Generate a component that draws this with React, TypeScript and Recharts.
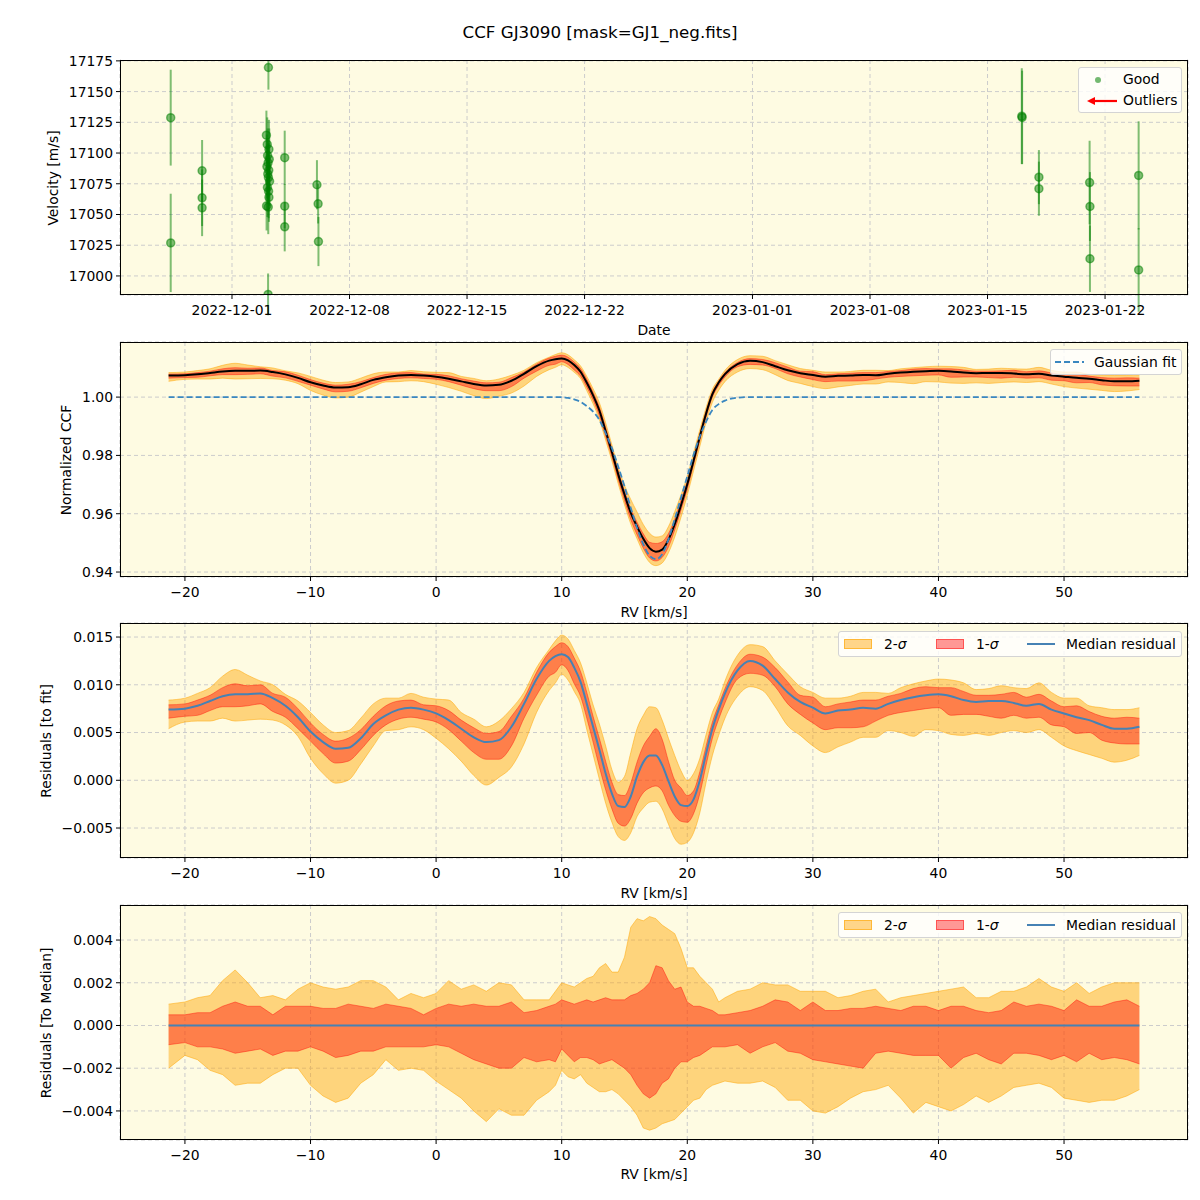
import React from "react";
import {
  ScatterChart,
  ComposedChart,
  Scatter,
  ErrorBar,
  Area,
  Line,
  XAxis,
  YAxis,
  CartesianGrid,
} from "recharts";

const FONT = "'DejaVu Sans', sans-serif";
const BG = "#fefbe2";
const GRID = "#cccccc";
const TICK = { fontSize: 13.9, fill: "#000", fontFamily: FONT };

// ---- panel 1: RV time series (days since 2022-12-01) ----
const obsDay = [
  -3.65, -3.65, -1.78, -1.78, -1.78,
  2.17, 2.05, 2.1, 2.2, 2.12, 2.22, 2.15, 2.08, 2.19, 2.13, 2.17, 2.24, 2.11, 2.18, 2.2, 2.06, 2.16, 2.15,
  3.14, 3.14, 3.14, 5.06, 5.13, 5.15,
  47.04, 47.06, 48.06, 48.06, 51.08, 51.1, 51.1, 54.0, 54.0,
];
const obsVel = [
  17128.8, 17026.9, 17085.6, 17063.6, 17055.4,
  17169.6, 17114.5, 17107, 17103, 17098, 17095, 17092, 17089, 17086, 17083, 17080, 17077, 17072, 17069, 17064, 17057, 17056, 16985,
  17096.2, 17056.8, 17040, 17074.2, 17058.7, 17028,
  17130, 17129, 17080.4, 17071, 17076, 17056.5, 17014, 17081.8, 17004.9,
];
const obsErr = [
  39, 40, 25, 23, 23,
  18, 20, 22, 24, 22, 25, 20, 26, 22, 24, 22, 20, 24, 22, 20, 20, 22, 17,
  22, 18, 20, 20, 16, 20,
  39, 38, 22, 22, 34, 28, 27, 44, 34,
];
const dateTicks = [0, 7, 14, 21, 31, 38, 45, 52];
const dateLabels = [
  "2022-12-01", "2022-12-08", "2022-12-15", "2022-12-22",
  "2023-01-01", "2023-01-08", "2023-01-15", "2023-01-22",
];
const velTicks = [17000, 17025, 17050, 17075, 17100, 17125, 17150, 17175];

// ---- panels 2-4: CCF vs RV ----
const rv = [
  -21.3, -20, -19, -18, -17, -16, -15, -14, -13, -12, -11, -10, -9, -8, -7, -6, -5, -4, -3, -2, -1, 0, 1, 2, 3, 4, 5, 6, 7, 8, 9,
  9.5, 10, 10.5, 11, 11.5, 12, 12.5, 13, 13.5, 14, 14.5, 15, 15.5, 16, 16.5, 17, 17.5, 18, 18.5, 19, 19.5, 20, 20.5, 21, 21.5, 22, 22.5, 23,
  24, 25, 26, 27, 28, 29, 30, 31, 32, 33, 34, 35, 36, 37, 38, 39, 40, 41, 42, 43, 44, 45, 46, 47, 48, 49, 50, 51, 52, 53, 54, 55, 56,
];
const gaussFit = [
  1, 1, 1, 1, 1, 1, 1, 1, 1, 1, 1, 1, 1, 1, 1, 1, 1, 1, 1, 1, 1, 1, 1, 1, 1, 1, 1, 1, 1, 1, 1,
  1, 1, 0.9997, 0.9992, 0.9984, 0.9969, 0.995, 0.9922, 0.9876, 0.9825, 0.9762, 0.9694, 0.962, 0.9552, 0.9495, 0.9456, 0.9444, 0.9461, 0.9512, 0.9581, 0.9655, 0.9728, 0.9802, 0.9865, 0.9916, 0.9956, 0.9976, 0.9988,
  0.9998, 1, 1, 1, 1, 1, 1, 1, 1, 1, 1, 1, 1, 1, 1, 1, 1, 1, 1, 1, 1, 1, 1, 1, 1, 1, 1, 1, 1, 1, 1, 1, 1,
];
// median residual to the Gaussian fit
const resMedian = [
  0.0074, 0.0075, 0.0078, 0.0083, 0.0088, 0.009, 0.009, 0.0091, 0.0086, 0.0078, 0.0066, 0.0051, 0.004, 0.0033, 0.0034, 0.0044, 0.0059, 0.0068, 0.0074, 0.0076, 0.0074, 0.007, 0.0063, 0.0054, 0.0045, 0.004, 0.0042, 0.0056, 0.008, 0.0106, 0.0125,
  0.013, 0.0132, 0.0129, 0.0118, 0.0103, 0.008, 0.0056, 0.0032, 0.0007, -0.0014, -0.0027, -0.0028, -0.0017, 0.0004, 0.0019, 0.0026, 0.0026, 0.0016, -0.0001, -0.0017, -0.0026, -0.0027, -0.002, 0.0, 0.0028, 0.0054, 0.0074, 0.0091,
  0.0115, 0.0125, 0.012, 0.0106, 0.0092, 0.0082, 0.0076, 0.007, 0.0073, 0.0074, 0.0076, 0.0075, 0.008, 0.0084, 0.0087, 0.0089, 0.009, 0.0088, 0.0084, 0.0082, 0.0083, 0.0083, 0.0081, 0.0078, 0.008, 0.0074, 0.007, 0.0066, 0.0063, 0.0058, 0.0054, 0.0054, 0.0056,
];
// spread around the median (residuals to median)
const hi2 = [
  0.001, 0.0011, 0.0013, 0.0014, 0.0021, 0.0026, 0.002, 0.0013, 0.0014, 0.0012, 0.0017, 0.002, 0.0018, 0.0017, 0.0018, 0.0021, 0.0021, 0.0018, 0.0012, 0.0015, 0.0013, 0.0015, 0.0021, 0.0017, 0.0019, 0.0016, 0.002, 0.0019, 0.0012, 0.0012, 0.0012,
  0.0016, 0.002, 0.0019, 0.0018, 0.002, 0.0022, 0.0023, 0.0027, 0.0029, 0.0025, 0.0025, 0.0032, 0.0046, 0.005, 0.0049, 0.0051, 0.005, 0.0047, 0.0045, 0.0043, 0.0036, 0.0027, 0.0027, 0.0023, 0.002, 0.0017, 0.0011, 0.0013,
  0.0016, 0.0017, 0.002, 0.0019, 0.0019, 0.0016, 0.0016, 0.0016, 0.0013, 0.0014, 0.0016, 0.0017, 0.0011, 0.0013, 0.0014, 0.0015, 0.0016, 0.0017, 0.0018, 0.0013, 0.0013, 0.0016, 0.0016, 0.0018, 0.0022, 0.0018, 0.0016, 0.002, 0.0015, 0.0018, 0.002, 0.002, 0.002,
];
const hi1 = [
  0.0005, 0.0005, 0.0006, 0.0006, 0.0009, 0.0011, 0.0009, 0.0009, 0.0005, 0.0009, 0.0009, 0.0009, 0.0008, 0.0008, 0.001, 0.0009, 0.0008, 0.001, 0.0009, 0.0008, 0.0005, 0.0008, 0.001, 0.0009, 0.001, 0.0009, 0.0009, 0.0011, 0.0006, 0.0007, 0.0009,
  0.001, 0.0012, 0.0011, 0.001, 0.0011, 0.0012, 0.0011, 0.0012, 0.0013, 0.0012, 0.0012, 0.0012, 0.0014, 0.0015, 0.0017, 0.002, 0.0028, 0.0027, 0.0021, 0.0017, 0.0018, 0.0011, 0.0009, 0.0009, 0.0008, 0.0007, 0.0005, 0.0005,
  0.0006, 0.0007, 0.0009, 0.0012, 0.0011, 0.0007, 0.0011, 0.0007, 0.0007, 0.0008, 0.0008, 0.0009, 0.0008, 0.0007, 0.0009, 0.0009, 0.0007, 0.0009, 0.0009, 0.0007, 0.0006, 0.0007, 0.0011, 0.0009, 0.001, 0.0009, 0.0007, 0.0012, 0.0009, 0.0009, 0.0011, 0.0012, 0.0009,
];
const lo1 = [
  -0.0009, -0.0008, -0.001, -0.001, -0.0011, -0.0013, -0.0012, -0.0011, -0.0014, -0.0012, -0.0012, -0.001, -0.0012, -0.0015, -0.0014, -0.0012, -0.0012, -0.001, -0.001, -0.001, -0.001, -0.0009, -0.001, -0.0013, -0.0016, -0.0018, -0.002, -0.002, -0.0015, -0.0017, -0.0016,
  -0.0017, -0.0011, -0.0014, -0.0017, -0.0015, -0.0015, -0.0016, -0.0018, -0.0017, -0.0016, -0.0018, -0.002, -0.0023, -0.0028, -0.0032, -0.0034, -0.0032, -0.0027, -0.0025, -0.002, -0.0017, -0.0017, -0.0015, -0.0014, -0.0012, -0.001, -0.001, -0.001,
  -0.0009, -0.0013, -0.001, -0.0008, -0.0012, -0.0013, -0.0016, -0.0017, -0.0018, -0.0019, -0.002, -0.0013, -0.0012, -0.0013, -0.0014, -0.0014, -0.0014, -0.002, -0.0015, -0.0013, -0.0016, -0.0018, -0.0013, -0.0013, -0.0014, -0.0016, -0.0014, -0.0017, -0.0013, -0.0016, -0.0015, -0.0016, -0.0018,
];
const lo2 = [
  -0.002, -0.0014, -0.0016, -0.0021, -0.0023, -0.0028, -0.0027, -0.0027, -0.0023, -0.002, -0.002, -0.0028, -0.0033, -0.0036, -0.0034, -0.0027, -0.0023, -0.0016, -0.0021, -0.002, -0.0021, -0.0026, -0.003, -0.0034, -0.004, -0.0045, -0.0039, -0.0042, -0.0042, -0.0035, -0.0031,
  -0.0028, -0.0021, -0.0024, -0.0025, -0.0023, -0.0027, -0.0029, -0.0031, -0.0031, -0.003, -0.0032, -0.0035, -0.0038, -0.0042, -0.0048, -0.0049, -0.0048, -0.0046, -0.0045, -0.0044, -0.0041, -0.0038, -0.0035, -0.0034, -0.003, -0.0028, -0.0027, -0.0026,
  -0.0027, -0.0027, -0.0026, -0.0029, -0.0035, -0.0035, -0.004, -0.0041, -0.0038, -0.0034, -0.0031, -0.003, -0.0028, -0.0034, -0.0041, -0.0036, -0.0038, -0.004, -0.0037, -0.0033, -0.0036, -0.0033, -0.0029, -0.0028, -0.0027, -0.0029, -0.0034, -0.0035, -0.0036, -0.0035, -0.0035, -0.0033, -0.003,
];
const rvTicks = [-20, -10, 0, 10, 20, 30, 40, 50];
const ccfTicks = [0.94, 0.96, 0.98, 1.0];
const resTicks = [-0.005, 0, 0.005, 0.01, 0.015];
const devTicks = [-0.004, -0.002, 0, 0.002, 0.004];

const obs = obsDay.map((d, i) => ({ day: d, vel: obsVel[i], err: obsErr[i] }));

const rows = rv.map((r, i) => {
  const ccf = gaussFit[i] + resMedian[i];
  const res = resMedian[i];
  return {
    rv: r,
    gauss: gaussFit[i],
    ccf,
    ccf2: [ccf + lo2[i], ccf + hi2[i]],
    ccf1: [ccf + lo1[i], ccf + hi1[i]],
    res,
    res2: [res + lo2[i], res + hi2[i]],
    res1: [res + lo1[i], res + hi1[i]],
    dev: res - resMedian[i],
    dev2: [lo2[i], hi2[i]],
    dev1: [lo1[i], hi1[i]],
  };
});

const RV_DOMAIN: [number, number] = [-25.17, 59.87];
const fmt = (d: number) => (v: number) => (v < 0 ? "\u2212" : "") + Math.abs(v).toFixed(d);

const PAD = 12;
const PLOT_H = 235;
const CHART_H = PAD + PLOT_H + 40;

function Frame({ top }: { top: number }) {
  return (
    <div
      style={{
        position: "absolute",
        left: 120,
        top,
        width: 1068,
        height: PLOT_H,
        border: "1px solid #000",
        boxSizing: "border-box",
        pointerEvents: "none",
      }}
    />
  );
}

function Label({ x, y, text, rotate }: { x: number; y: number; text: string; rotate?: boolean }) {
  return (
    <div
      style={{
        position: "absolute",
        left: x,
        top: y,
        transform: `translate(-50%, -50%)${rotate ? " rotate(-90deg)" : ""}`,
        whiteSpace: "nowrap",
        fontSize: 13.9,
        lineHeight: "16px",
      }}
    >
      {text}
    </div>
  );
}

function LegendText({ left, top, children }: { left: number; top: number; children: React.ReactNode }) {
  return (
    <span style={{ position: "absolute", left, top, lineHeight: "16px", fontSize: 13.9, whiteSpace: "nowrap" }}>
      {children}
    </span>
  );
}

const boxStyle = (left: number, top: number, width: number, height: number): React.CSSProperties => ({
  position: "absolute",
  left,
  top,
  width,
  height,
  background: "rgba(255,255,255,0.8)",
  border: "1px solid #d4d4d4",
  borderRadius: 3,
  boxSizing: "border-box",
});

function SigmaLegend({ top }: { top: number }) {
  return (
    <div style={boxStyle(838, top, 344, 26)}>
      <div style={{ position: "absolute", left: 5, top: 7, width: 28, height: 10, background: "rgba(255,165,0,0.45)", border: "1px solid rgba(255,165,0,0.6)", boxSizing: "border-box" }} />
      <LegendText left={45} top={4}>2-<i>σ</i></LegendText>
      <div style={{ position: "absolute", left: 97, top: 7, width: 28, height: 10, background: "rgba(255,0,0,0.4)", border: "1px solid rgba(255,0,0,0.45)", boxSizing: "border-box" }} />
      <LegendText left={137} top={4}>1-<i>σ</i></LegendText>
      <svg style={{ position: "absolute", left: 188, top: 6 }} width={28} height={12}>
        <line x1={0} y1={6} x2={28} y2={6} stroke="#4682b4" strokeWidth={2} />
      </svg>
      <LegendText left={227} top={4}>Median residual</LegendText>
    </div>
  );
}

function RvPanel({
  top,
  domain,
  ticks,
  decimals,
  band2,
  band1,
  line,
  lineColor,
  withGauss,
}: {
  top: number;
  domain: [number, number];
  ticks: number[];
  decimals: number;
  band2: string;
  band1: string;
  line: string;
  lineColor: string;
  withGauss?: boolean;
}) {
  const smooth = band2 === "dev2" ? "linear" : "monotone";
  return (
    <div style={{ position: "absolute", left: 0, top: top - PAD }}>
      <ComposedChart width={1200} height={CHART_H} data={rows} margin={{ top: PAD, right: 12, bottom: 0, left: 0 }}>
        <CartesianGrid stroke={GRID} strokeDasharray="4 3" fill={BG} fillOpacity={1} />
        <XAxis
          dataKey="rv"
          type="number"
          domain={RV_DOMAIN}
          ticks={rvTicks}
          interval={0}
          allowDataOverflow
          tickFormatter={fmt(0)}
          tick={TICK}
          tickSize={4}
          tickMargin={6}
          tickLine={{ stroke: "#000" }}
          axisLine={false}
          height={40}
        />
        <YAxis
          type="number"
          domain={domain}
          ticks={ticks}
          interval={0}
          allowDataOverflow
          tickFormatter={fmt(decimals)}
          tick={TICK}
          tickSize={4}
          tickMargin={3}
          tickLine={{ stroke: "#000" }}
          axisLine={false}
          width={120}
        />
        <Area
          type={smooth}
          dataKey={band2}
          fill="orange"
          fillOpacity={0.45}
          stroke="orange"
          strokeOpacity={0.5}
          strokeWidth={1}
          dot={false}
          activeDot={false}
          isAnimationActive={false}
        />
        <Area
          type={smooth}
          dataKey={band1}
          fill="red"
          fillOpacity={0.4}
          stroke="red"
          strokeOpacity={0.4}
          strokeWidth={1}
          dot={false}
          activeDot={false}
          isAnimationActive={false}
        />
        <Line
          type="monotone"
          dataKey={line}
          stroke={lineColor}
          strokeWidth={2}
          dot={false}
          activeDot={false}
          isAnimationActive={false}
        />
        {withGauss && (
          <Line
            type="monotone"
            dataKey="gauss"
            stroke="#3a87c0"
            strokeWidth={1.8}
            strokeDasharray="6 3"
            dot={false}
            activeDot={false}
            isAnimationActive={false}
          />
        )}
      </ComposedChart>
    </div>
  );
}

const dot = (p: any) => (
  <circle cx={p.cx} cy={p.cy} r={4} fill="green" fillOpacity={0.5} stroke="green" strokeOpacity={0.5} strokeWidth={1.5} />
);

export default function App() {
  return (
    <div
      style={{
        position: "relative",
        width: 1200,
        height: 1200,
        background: "#fff",
        fontFamily: FONT,
        color: "#000",
        overflow: "hidden",
      }}
    >
      <style>{`body{margin:0}`}</style>

      {/* velocity time series */}
      <div style={{ position: "absolute", left: 0, top: 60 - PAD }}>
        <ScatterChart width={1200} height={CHART_H} margin={{ top: PAD, right: 12, bottom: 0, left: 0 }}>
          <CartesianGrid stroke={GRID} strokeDasharray="4 3" fill={BG} fillOpacity={1} />
          <XAxis
            dataKey="day"
            type="number"
            domain={[-6.67, 56.94]}
            ticks={dateTicks}
            interval={0}
            allowDataOverflow
            tickFormatter={(v: number) => dateLabels[dateTicks.indexOf(v)] ?? ""}
            tick={TICK}
            tickSize={4}
            tickMargin={6}
            tickLine={{ stroke: "#000" }}
            axisLine={false}
            height={40}
          />
          <YAxis
            dataKey="vel"
            type="number"
            domain={[16984.5, 17175.7]}
            ticks={velTicks}
            interval={0}
            allowDataOverflow
            tick={TICK}
            tickSize={4}
            tickMargin={3}
            tickLine={{ stroke: "#000" }}
            axisLine={false}
            width={120}
          />
          <Scatter data={obs} dataKey="vel" shape={dot} isAnimationActive={false}>
            <ErrorBar dataKey="err" direction="y" width={0} stroke="rgba(0,128,0,0.5)" strokeWidth={2} />
          </Scatter>
        </ScatterChart>
      </div>
      {/* hide error bars running past the top of the axes */}
      <div style={{ position: "absolute", left: 121, top: 44, width: 1066, height: 15.5, background: "#fff" }} />
      <div style={{ position: "absolute", left: 0, top: 22, width: 1200, textAlign: "center", fontSize: 16.7, lineHeight: "20px" }}>
        CCF GJ3090 [mask=GJ1_neg.fits]
      </div>
      <Frame top={60} />
      <Label x={53} y={177.5} text="Velocity [m/s]" rotate />
      <Label x={654} y={330} text="Date" />
      <div style={boxStyle(1078, 67, 104, 46)}>
        <svg style={{ position: "absolute", left: 14, top: 7 }} width={10} height={10}>
          <circle cx={5} cy={5} r={3} fill="green" fillOpacity={0.55} />
        </svg>
        <LegendText left={44} top={3}>Good</LegendText>
        <svg style={{ position: "absolute", left: 6, top: 26 }} width={34} height={14}>
          <line x1={32} y1={7} x2={8} y2={7} stroke="red" strokeWidth={2.2} />
          <polygon points="2,7 10,3 10,11" fill="red" />
        </svg>
        <LegendText left={44} top={24}>Outliers</LegendText>
      </div>

      {/* normalized CCF */}
      <RvPanel top={342} domain={[0.9383, 1.0189]} ticks={ccfTicks} decimals={2} band2="ccf2" band1="ccf1" line="ccf" lineColor="#000" withGauss />
      <Frame top={342} />
      <Label x={66} y={459.5} text="Normalized CCF" rotate />
      <Label x={654} y={612} text="RV [km/s]" />
      <div style={boxStyle(1050, 349, 132, 26)}>
        <svg style={{ position: "absolute", left: 4, top: 6 }} width={30} height={12}>
          <line x1={0} y1={6} x2={29} y2={6} stroke="#3a87c0" strokeWidth={1.8} strokeDasharray="6 3" />
        </svg>
        <LegendText left={43} top={4}>Gaussian fit</LegendText>
      </div>

      {/* residuals to fit */}
      <RvPanel top={623} domain={[-0.00814, 0.01647]} ticks={resTicks} decimals={3} band2="res2" band1="res1" line="res" lineColor="#4682b4" />
      <Frame top={623} />
      <Label x={46} y={740.5} text="Residuals [to fit]" rotate />
      <Label x={654} y={893} text="RV [km/s]" />
      <SigmaLegend top={631} />

      {/* residuals to median */}
      <RvPanel top={905} domain={[-0.00536, 0.00564]} ticks={devTicks} decimals={3} band2="dev2" band1="dev1" line="dev" lineColor="#4682b4" />
      <Frame top={905} />
      <Label x={46} y={1022.5} text="Residuals [To Median]" rotate />
      <Label x={654} y={1174} text="RV [km/s]" />
      <SigmaLegend top={912} />
    </div>
  );
}
